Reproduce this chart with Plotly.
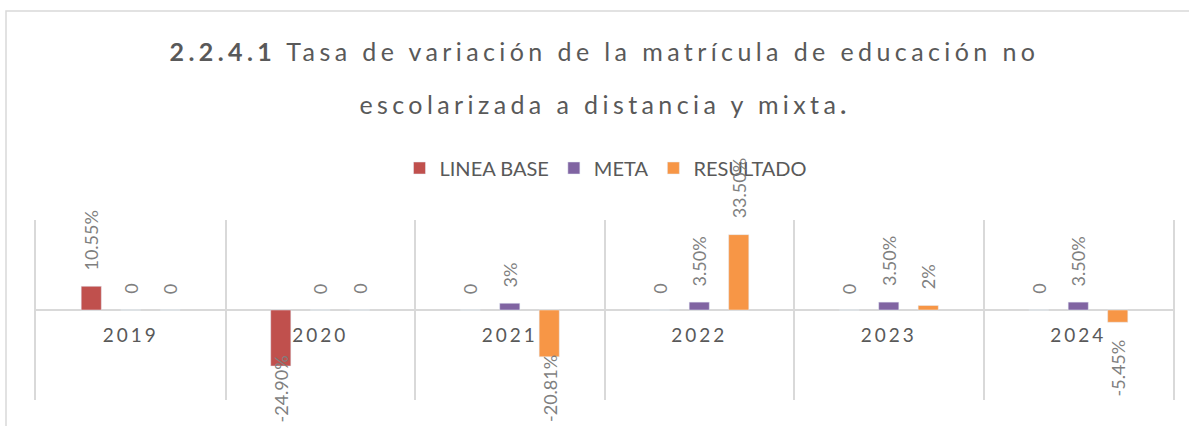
import plotly.graph_objects as go

# datos
years = ["2019", "2020", "2021", "2022", "2023", "2024"]
linea_base = [10.55, -24.90, 0, 0, 0, 0]
meta = [0, 0, 3, 3.5, 3.5, 3.5]
resultado = [0, 0, -20.81, 33.5, 2, -5.45]
linea_base_labels = ["10.55%", "-24.90%", "0", "0", "0", "0"]
meta_labels = ["0", "0", "3%", "3.50%", "3.50%", "3.50%"]
resultado_labels = ["0", "0", "-20.81%", "33.50%", "2%", "-5.45%"]

W, H = 1189, 426
M_L, M_R, M_T, M_B = 36, 16, 220, 26
Y_MIN, Y_MAX = -40, 40
BARGAP, BARGROUPGAP = 0.375, 0.49
FONT = "Lato"
DARK = "#595959"
LIGHT = "#7f7f7f"
GRID = "#d9d9d9"

plot_w = W - M_L - M_R
plot_h = H - M_T - M_B
px_unit = plot_h / (Y_MAX - Y_MIN)
slot = plot_w / len(years) * (1 - BARGAP) / 3

series = [
    ("LINEA BASE", linea_base, linea_base_labels, "#C0504D"),
    ("META", meta, meta_labels, "#8064A2"),
    ("RESULTADO", resultado, resultado_labels, "#F79646"),
]

fig = go.Figure()
for name, vals, _, color in series:
    fig.add_trace(
        go.Bar(x=years, y=vals, name=name, marker_color=color, hoverinfo="skip")
    )

# etiquetas de datos giradas
annotations = []
zero_px = plot_h / 2
for i, (name, vals, labels, color) in enumerate(series):
    for j, (v, lab) in enumerate(zip(vals, labels)):
        if v >= 0:
            yanchor, yshift = "bottom", 14
        else:
            yanchor, yshift = "top", -15
            est_len = len(lab) * 0.53 * 18
            bottom = abs(v) * px_unit + 15 + est_len
            limit = zero_px + M_B - 6
            if bottom > limit:
                yshift += bottom - limit
        annotations.append(
            dict(
                x=j, y=v, xref="x", yref="y", text=lab, showarrow=False,
                textangle=-90, xshift=(i - 1) * slot, yanchor=yanchor,
                yshift=yshift, font=dict(family=FONT, size=18, color=LIGHT),
            )
        )

annotations.append(
    dict(
        text="escolarizada a distancia y mixta<b>.</b>", xref="paper", yref="paper",
        x=0.5, y=(H - M_B - 104) / plot_h, showarrow=False,
        xanchor="center", yanchor="middle",
        font=dict(family=FONT, size=25, color=DARK),
    )
)

fig.update_layout(
    width=W,
    height=H,
    margin=dict(l=M_L, r=M_R, t=M_T, b=M_B),
    paper_bgcolor="white",
    plot_bgcolor="white",
    barmode="group",
    bargap=BARGAP,
    bargroupgap=BARGROUPGAP,
    title=dict(
        text="<b>2.2.4.1</b> Tasa de variación de la matrícula de educación no",
        xref="paper", x=0.5, xanchor="center", y=1 - 52 / H, yanchor="middle",
        font=dict(family=FONT, size=25, color=DARK),
    ),
    legend=dict(
        orientation="h", x=(606 - M_L) / plot_w, xanchor="center",
        y=(H - M_B - 168) / plot_h, yanchor="middle",
        font=dict(family=FONT, size=20, color=DARK), itemwidth=30,
    ),
    annotations=annotations,
    shapes=[
        dict(
            type="rect", xref="paper", yref="paper",
            x0=(6 - M_L) / plot_w, x1=(W + 10 - M_L) / plot_w,
            y0=-(40) / plot_h, y1=(H - M_B - 11) / plot_h,
            line=dict(color=GRID, width=1.5), layer="below",
        )
    ],
    xaxis=dict(
        type="category", range=[-0.5, len(years) - 0.5], tickson="boundaries",
        showgrid=True, gridcolor=GRID, gridwidth=1.5, ticks="", anchor="free",
        position=0.5, showline=False, ticklabelstandoff=12,
        tickfont=dict(family=FONT, size=19, color=DARK),
    ),
    yaxis=dict(
        range=[Y_MIN, Y_MAX], showticklabels=False, showgrid=False,
        zeroline=True, zerolinecolor=GRID, zerolinewidth=1.5,
        showline=True, mirror=True, linecolor=GRID, linewidth=1.5, ticks="",
    ),
)

post = """
document.body.style.margin = '0';
var css = document.createElement('style');
css.textContent = '.gtitle{letter-spacing:4.4px} .xtick text{letter-spacing:3px}';
document.head.appendChild(css);
document.querySelectorAll('.annotation-text').forEach(function (t) {
  if (t.textContent.indexOf('escolarizada') === 0) { t.style.letterSpacing = '4.4px'; }
});
"""

fig.write_html("out.html", post_script=post, config={"displayModeBar": False})
